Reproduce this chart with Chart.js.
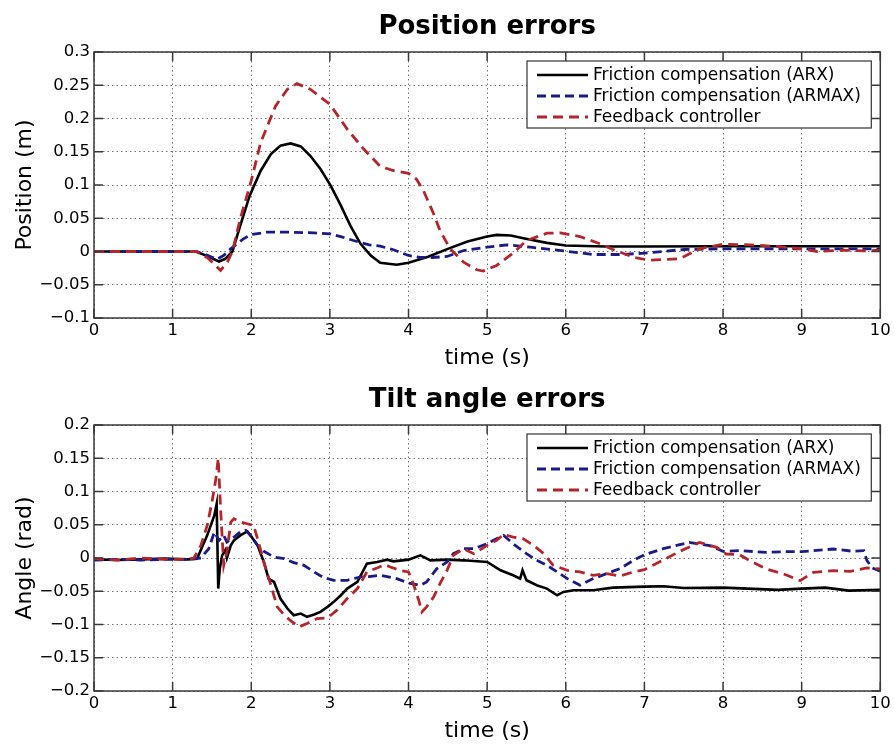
<!DOCTYPE html>
<html lang="en">
<head>
<meta charset="UTF-8">
<title>Position and tilt angle errors</title>
<script src="https://cdn.jsdelivr.net/npm/chart.js@4.4.0/dist/chart.umd.min.js"></script>
<style>
  html, body { margin: 0; padding: 0; background: #fff; }
  .wrap { width: 894px; height: 748px; position: relative; overflow: hidden; }
  canvas { position: absolute; left: 0; display: block; }
  #posChart { top: 0; }
  #angChart { top: 373px; }
</style>
</head>
<body>
<div class="wrap">
  <canvas id="posChart" width="894" height="374"></canvas>
  <canvas id="angChart" width="894" height="374"></canvas>
</div>
<script>
var seriesNames = ['Friction compensation (ARX)', 'Friction compensation (ARMAX)', 'Feedback controller'];
var xTicks = [0, 1, 2, 3, 4, 5, 6, 7, 8, 9, 10];
var posTicks = [-0.1, -0.05, 0, 0.05, 0.1, 0.15, 0.2, 0.25, 0.3];
var angTicks = [-0.2, -0.15, -0.1, -0.05, 0, 0.05, 0.1, 0.15, 0.2];

// Position errors (m)
var posArxT = [0, 1.3, 1.44, 1.59, 1.67, 1.76, 1.86, 1.98, 2.12, 2.25, 2.37, 2.5, 2.63, 2.75, 2.88, 3.01, 3.14, 3.26, 3.39, 3.52, 3.64, 3.85, 4.0, 4.25, 4.5, 4.75, 5.0, 5.12, 5.3, 5.46, 5.76, 6.0, 6.5, 7.0, 8.0, 9.0, 10.0];
var posArxY = [0, 0, -0.007, -0.015, -0.011, 0, 0.039, 0.084, 0.1215, 0.1465, 0.159, 0.1625, 0.158, 0.144, 0.124, 0.099, 0.069, 0.039, 0.0115, -0.006, -0.017, -0.02, -0.017, -0.008, 0.004, 0.015, 0.0225, 0.025, 0.024, 0.02, 0.013, 0.009, 0.0075, 0.0075, 0.008, 0.008, 0.008];

var posArmaxT = [0, 1.3, 1.45, 1.56, 1.65, 1.72, 1.8, 1.9, 2.0, 2.2, 2.5, 2.8, 3.0, 3.15, 3.3, 3.5, 3.64, 3.8, 4.0, 4.15, 4.3, 4.49, 4.7, 5.0, 5.25, 5.55, 6.0, 6.35, 6.7, 7.0, 7.5, 8.0, 9.0, 10.0];
var posArmaxY = [0, 0, -0.006, -0.012, -0.006, 0.002, 0.01, 0.019, 0.0255, 0.029, 0.029, 0.028, 0.0265, 0.022, 0.0165, 0.01, 0.008, 0.003, -0.006, -0.009, -0.009, -0.0075, 0.0015, 0.0065, 0.01, 0.0065, 0.0005, -0.0045, -0.0045, -0.0025, 0.003, 0.004, 0.004, 0.004];

var posFbT = [0, 1.3, 1.45, 1.61, 1.7, 1.76, 1.86, 2.0, 2.12, 2.31, 2.46, 2.58, 2.75, 3.0, 3.22, 3.43, 3.64, 3.81, 4.0, 4.1, 4.19, 4.32, 4.4, 4.53, 4.7, 4.87, 4.95, 5.12, 5.33, 5.5, 5.76, 5.93, 6.18, 6.44, 6.6, 6.86, 7.05, 7.45, 7.7, 8.0, 8.35, 8.7, 9.0, 9.2, 9.5, 9.8, 10.0];
var posFbY = [0, 0, -0.01, -0.0285, -0.015, 0, 0.049, 0.1065, 0.164, 0.219, 0.244, 0.2525, 0.244, 0.2215, 0.184, 0.154, 0.128, 0.1215, 0.1175, 0.109, 0.0915, 0.0565, 0.0315, 0.004, -0.016, -0.0275, -0.0295, -0.021, -0.0025, 0.0165, 0.0275, 0.028, 0.0225, 0.0115, 0.003, -0.0085, -0.013, -0.011, 0.004, 0.011, 0.01, 0.0075, 0.004, 0, 0.002, 0.001, 0.002];

// Tilt angle errors (rad)
var angArxT = [0, 0.3, 0.6, 0.9, 1.2, 1.31, 1.44, 1.53, 1.56, 1.58, 1.6, 1.63, 1.67, 1.69, 1.74, 1.78, 1.86, 1.95, 1.99, 2.08, 2.16, 2.22, 2.29, 2.37, 2.46, 2.54, 2.63, 2.71, 2.8, 2.88, 2.97, 3.05, 3.14, 3.22, 3.35, 3.47, 3.6, 3.73, 3.81, 4.0, 4.15, 4.28, 4.49, 4.7, 5.0, 5.17, 5.33, 5.42, 5.45, 5.5, 5.63, 5.76, 5.89, 5.97, 6.1, 6.35, 6.6, 7.0, 7.24, 7.5, 8.0, 8.7, 9.0, 9.3, 9.6, 10.0];
var angArxY = [-0.002, -0.003, -0.002, -0.001, -0.002, -0.001, 0.034, 0.064, 0.0815, -0.046, -0.016, 0.004, 0.012, 0, 0.019, 0.0265, 0.034, 0.04, 0.034, 0.019, -0.006, -0.031, -0.036, -0.061, -0.076, -0.086, -0.0835, -0.0885, -0.085, -0.081, -0.0735, -0.066, -0.056, -0.046, -0.036, -0.0085, -0.006, -0.0025, -0.005, -0.0025, 0.004, -0.0035, -0.0025, -0.0035, -0.006, -0.0185, -0.026, -0.031, -0.0185, -0.0335, -0.041, -0.046, -0.056, -0.051, -0.0485, -0.0485, -0.0445, -0.043, -0.0425, -0.045, -0.0445, -0.048, -0.046, -0.0445, -0.049, -0.048];

var angArmaxT = [0, 0.3, 0.6, 0.9, 1.2, 1.36, 1.46, 1.53, 1.59, 1.65, 1.69, 1.78, 1.86, 1.93, 1.99, 2.08, 2.16, 2.29, 2.42, 2.54, 2.67, 2.8, 2.92, 3.05, 3.22, 3.39, 3.5, 3.64, 3.85, 4.0, 4.15, 4.23, 4.36, 4.49, 4.57, 4.7, 4.83, 5.0, 5.12, 5.21, 5.33, 5.5, 5.63, 5.76, 5.89, 6.02, 6.18, 6.35, 6.52, 6.69, 6.86, 7.0, 7.24, 7.45, 7.57, 7.83, 8.0, 8.21, 8.55, 8.81, 9.0, 9.4, 9.66, 9.79, 9.83, 9.9, 10.0];
var angArmaxY = [-0.003, -0.002, -0.003, -0.002, -0.002, 0, 0.014, 0.039, 0.0265, 0.034, 0.024, 0.0315, 0.039, 0.0415, 0.034, 0.019, 0.01, 0.0015, -0.001, -0.007, -0.011, -0.021, -0.0295, -0.0335, -0.0335, -0.0285, -0.028, -0.026, -0.031, -0.0375, -0.041, -0.036, -0.016, -0.006, 0.0065, 0.014, 0.014, 0.0215, 0.029, 0.034, 0.0215, 0.0065, -0.0035, -0.011, -0.021, -0.031, -0.041, -0.031, -0.0235, -0.016, -0.0035, 0.005, 0.014, 0.02, 0.0235, 0.0185, 0.01, 0.011, 0.0085, 0.0095, 0.0095, 0.0135, 0.01, 0.011, -0.004, -0.015, -0.02];

var angFbT = [0, 0.3, 0.6, 0.9, 1.2, 1.27, 1.36, 1.44, 1.5, 1.55, 1.58, 1.61, 1.65, 1.69, 1.74, 1.78, 1.86, 1.95, 2.03, 2.08, 2.16, 2.25, 2.33, 2.42, 2.52, 2.61, 2.71, 2.84, 2.97, 3.09, 3.22, 3.35, 3.47, 3.6, 3.7, 3.77, 3.89, 4.0, 4.06, 4.13, 4.17, 4.23, 4.32, 4.4, 4.49, 4.57, 4.7, 4.83, 5.0, 5.12, 5.21, 5.33, 5.46, 5.59, 5.72, 5.84, 6.02, 6.18, 6.35, 6.52, 6.69, 6.86, 7.0, 7.24, 7.45, 7.7, 7.92, 8.04, 8.21, 8.38, 8.55, 8.77, 8.98, 9.15, 9.4, 9.62, 9.83, 10.0];
var angFbY = [-0.001, -0.003, 0, -0.002, -0.002, 0, 0.019, 0.049, 0.084, 0.119, 0.15, 0.074, -0.011, 0.009, 0.054, 0.059, 0.054, 0.0515, 0.049, 0.029, -0.006, -0.041, -0.0735, -0.086, -0.096, -0.1035, -0.0985, -0.091, -0.09, -0.0785, -0.061, -0.046, -0.021, -0.015, -0.01, -0.0135, -0.0185, -0.021, -0.0385, -0.0635, -0.081, -0.0735, -0.0585, -0.0385, -0.0185, 0.004, 0.014, 0.0065, 0.019, 0.0265, 0.0355, 0.0315, 0.029, 0.019, 0.0065, -0.011, -0.0185, -0.021, -0.026, -0.0235, -0.027, -0.021, -0.0175, -0.003, 0.01, 0.0235, 0.016, 0.006, 0.005, -0.0065, -0.0165, -0.024, -0.034, -0.0215, -0.019, -0.02, -0.015, -0.0165];

Chart.defaults.font.family = '"DejaVu Sans", sans-serif';
Chart.defaults.color = '#000';

function pts(t, y) {
  return t.map(function (v, i) { return { x: v, y: y[i] }; });
}

function fmt(v) {
  var r = Math.round(v * 1000) / 1000;
  if (r === 0) return '0';
  return (r < 0 ? '\u2212' : '') + String(Math.abs(r));
}

// box, inward ticks and framed legend like the original figure
var framePlugin = {
  id: 'frame',
  afterDatasetsDraw: function (chart) {
    var ctx = chart.ctx, a = chart.chartArea;
    var xs = chart.scales.x, ys = chart.scales.y;
    ctx.save();
    ctx.strokeStyle = '#3a3a3a';
    ctx.lineWidth = 1.5;
    ctx.setLineDash([]);
    ctx.beginPath();
    xs.ticks.forEach(function (t) {
      var p = xs.getPixelForValue(t.value);
      ctx.moveTo(p, a.bottom); ctx.lineTo(p, a.bottom - 9);
      ctx.moveTo(p, a.top); ctx.lineTo(p, a.top + 9);
    });
    ys.ticks.forEach(function (t) {
      var p = ys.getPixelForValue(t.value);
      ctx.moveTo(a.left, p); ctx.lineTo(a.left + 9, p);
      ctx.moveTo(a.right, p); ctx.lineTo(a.right - 9, p);
    });
    ctx.stroke();
    ctx.strokeRect(a.left, a.top, a.right - a.left, a.bottom - a.top);

    // legend
    var bx = 527, by = a.top + 9, bw = a.right - 9 - bx, bh = 67;
    ctx.fillStyle = '#fff';
    ctx.fillRect(bx, by, bw, bh);
    ctx.lineWidth = 1.2;
    ctx.strokeStyle = '#333';
    ctx.strokeRect(bx, by, bw, bh);
    ctx.font = '17px "DejaVu Sans"';
    ctx.textBaseline = 'middle';
    ctx.textAlign = 'left';
    chart.data.datasets.forEach(function (ds, i) {
      var cy = by + 14 + i * 21;
      ctx.strokeStyle = ds.borderColor;
      ctx.lineWidth = ds.borderWidth;
      ctx.setLineDash(ds.borderDash || []);
      ctx.beginPath();
      ctx.moveTo(bx + 10, cy); ctx.lineTo(bx + 61, cy);
      ctx.stroke();
      ctx.setLineDash([]);
      ctx.fillStyle = '#000';
      ctx.fillText(ds.label, bx + 66, cy + 1);
    });
    ctx.restore();
  }
};

function makeChart(id, title, yLabel, yTicks, arx, armax, fb) {
  return new Chart(document.getElementById(id), {
    type: 'line',
    data: {
      datasets: [
        { label: seriesNames[0], data: arx, borderColor: '#000000', borderWidth: 2.6, order: 3 },
        { label: seriesNames[1], data: armax, borderColor: '#1b1b86', borderWidth: 2.8, borderDash: [9, 5], order: 2 },
        { label: seriesNames[2], data: fb, borderColor: '#b4262b', borderWidth: 2.8, borderDash: [10, 6], order: 1 }
      ]
    },
    options: {
      responsive: false,
      animation: false,
      parsing: false,
      elements: { point: { radius: 0 }, line: { tension: 0 } },
      layout: { padding: { left: 0, right: 13, top: 0, bottom: 0 } },
      plugins: {
        legend: { display: false },
        tooltip: { enabled: false },
        title: {
          display: true, text: title, fullSize: false, color: '#000',
          font: { size: 26, weight: 'bold', lineHeight: 1.2 },
          padding: { top: 12, bottom: 8.8 }
        }
      },
      scales: {
        x: {
          type: 'linear', min: 0, max: 10,
          afterBuildTicks: function (s) { s.ticks = xTicks.map(function (v) { return { value: v }; }); },
          afterFit: function (s) { s.height = 56; },
          grid: { color: 'rgba(0,0,0,0.55)', lineWidth: 1, drawTicks: false },
          border: { display: false, dash: [1.5, 3] },
          ticks: { font: { size: 16.5 }, padding: 3.2, maxRotation: 0, color: '#000' },
          title: { display: true, text: 'time (s)', font: { size: 22 }, padding: { top: 0, bottom: 2.8 }, color: '#000' }
        },
        y: {
          type: 'linear', min: yTicks[0], max: yTicks[yTicks.length - 1],
          afterBuildTicks: function (s) { s.ticks = yTicks.map(function (v) { return { value: v }; }); },
          afterFit: function (s) { s.width = 94; },
          grid: { color: 'rgba(0,0,0,0.55)', lineWidth: 1, drawTicks: false },
          border: { display: false, dash: [1.5, 3] },
          ticks: { font: { size: 16.5 }, padding: 4, color: '#000', callback: function (v) { return fmt(v); } },
          title: { display: true, text: yLabel, font: { size: 22 }, padding: { top: 11.8, bottom: 0 }, color: '#000' }
        }
      }
    },
    plugins: [framePlugin]
  });
}

makeChart('posChart', 'Position errors', 'Position (m)', posTicks,
  pts(posArxT, posArxY), pts(posArmaxT, posArmaxY), pts(posFbT, posFbY));
makeChart('angChart', 'Tilt angle errors', 'Angle (rad)', angTicks,
  pts(angArxT, angArxY), pts(angArmaxT, angArmaxY), pts(angFbT, angFbY));
</script>
</body>
</html>
